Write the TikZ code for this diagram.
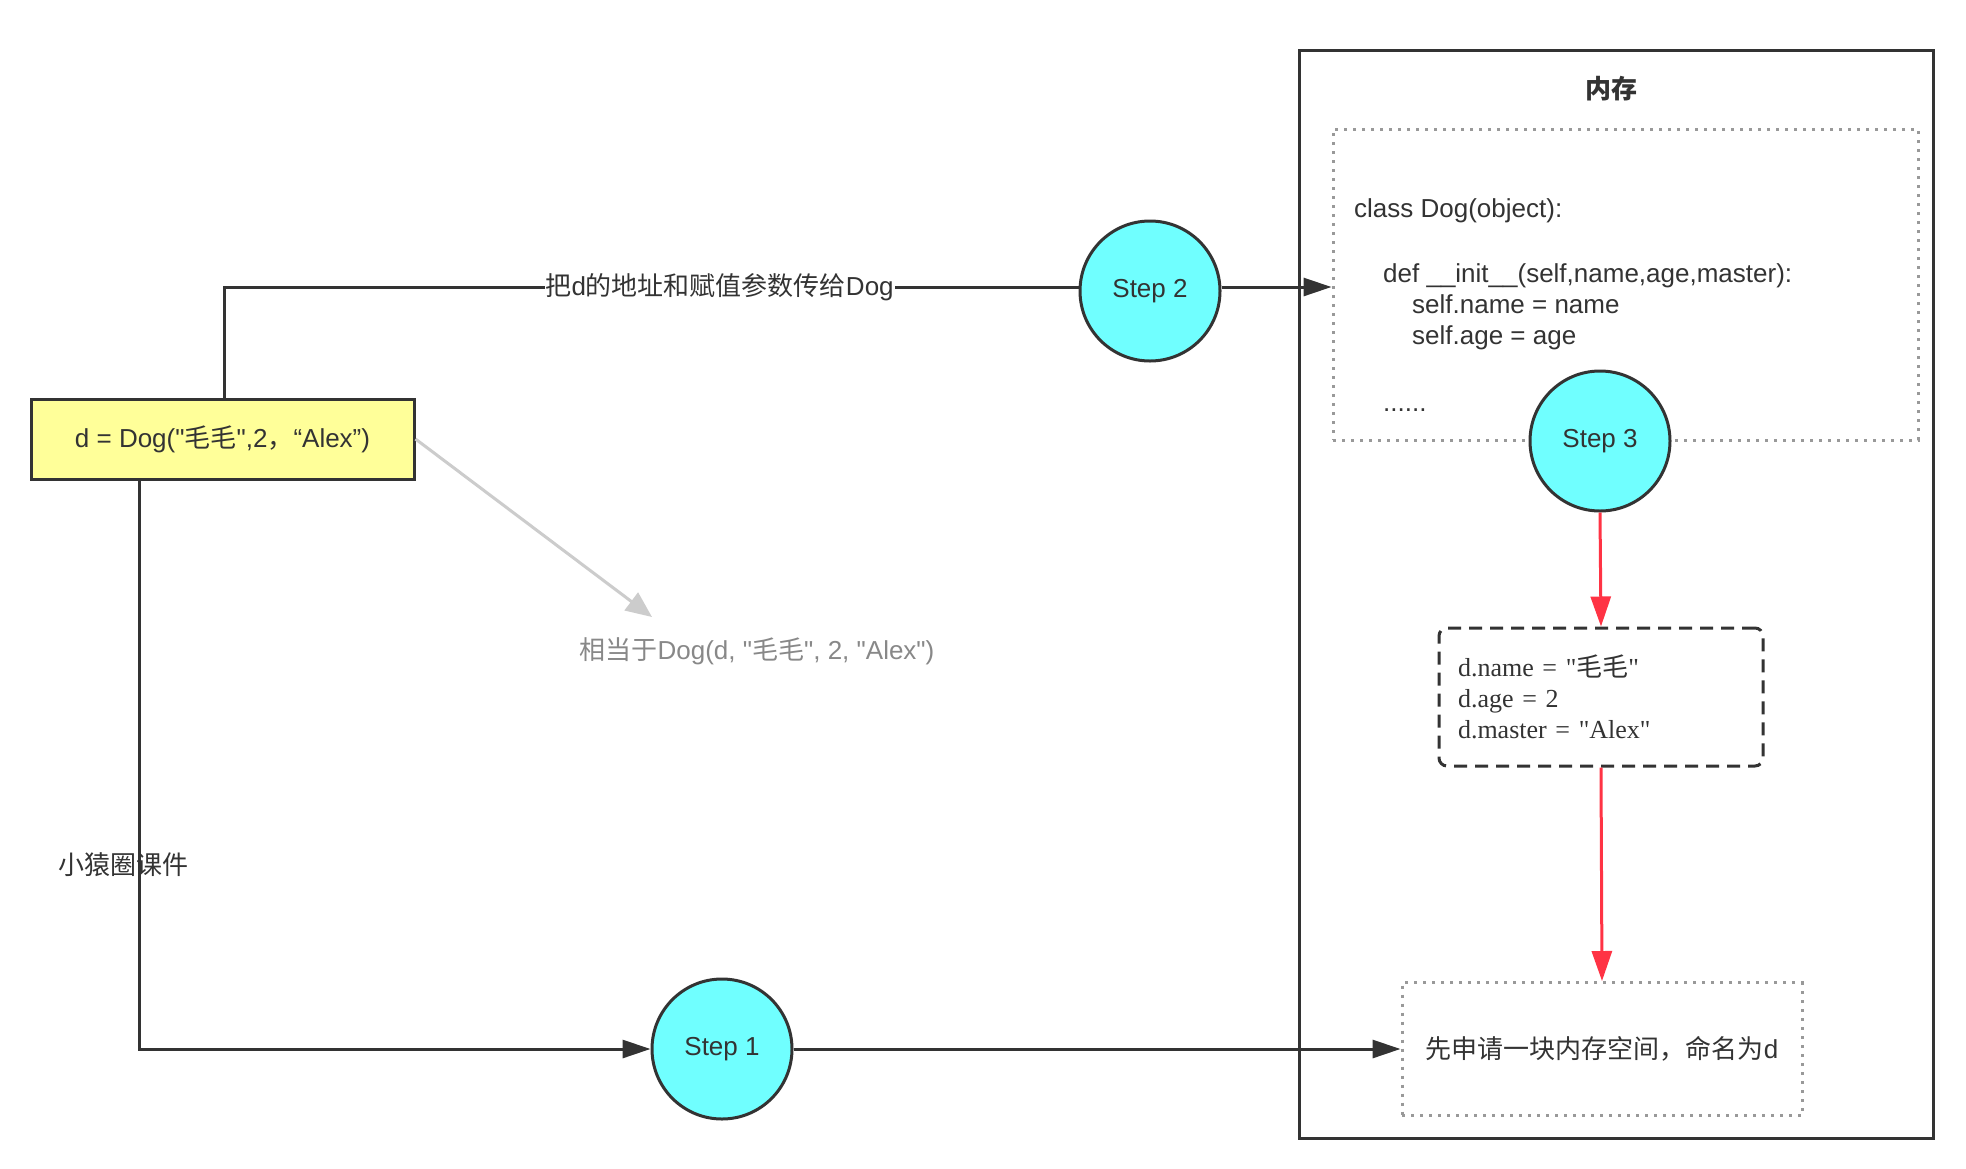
\documentclass[tikz,border=0pt]{standalone}
\usepackage{fontspec}
\newfontfamily\latinft{Liberation Sans}
\newfontfamily\cjk{Noto Sans CJK SC}
\newfontfamily\serift{Liberation Serif}
\usetikzlibrary{arrows.meta}
\definecolor{ink}{HTML}{333333}
\definecolor{cyanfill}{HTML}{70FFFF}
\definecolor{yel}{HTML}{FFFF99}
\definecolor{dotgray}{HTML}{999999}
\definecolor{redln}{HTML}{FF3344}
\definecolor{lightgr}{HTML}{CCCCCC}
\definecolor{notegray}{HTML}{888888}
\begin{document}
\begin{tikzpicture}[x=1pt,y=-1pt,
  font=\latinft\fontsize{26}{31}\selectfont, text=ink,
  stepnode/.style={circle, draw=ink, fill=cyanfill, line width=3pt, minimum size=140pt, inner sep=0pt},
  ybox/.style={draw=ink, fill=yel, line width=3pt, minimum width=383pt, minimum height=80pt, inner sep=0pt},
  conn/.style={draw=ink, line width=3pt},
  arr/.style={conn, -{Triangle[length=28pt,width=18pt]}},
  redarr/.style={draw=redln, line width=3pt, -{Triangle[length=30pt,width=20pt]}},
  grayarr/.style={draw=lightgr, line width=3pt, -{Triangle[length=26pt,width=22pt]}},
  dotbox/.style={draw=dotgray, line width=3pt, dash pattern=on 3pt off 6pt, inner sep=0pt},
  dashbox/.style={draw=ink, line width=3pt, dash pattern=on 13pt off 8pt, rounded corners=8pt}]
\fill[white] (0,0) rectangle (1966,1168);
\useasboundingbox (0,0) rectangle (1966,1168);

% memory frame
\node[draw=ink, line width=3pt, minimum width=634pt, minimum height=1088pt, inner sep=0pt] (mem) at (1616,594) {};
\node (memtitle) at (1611,89) {\cjk\bfseries 内存};

% class code box
\node[dotbox, minimum width=585pt, minimum height=311pt] (code) at (1625.5,284.5) {};
\node[anchor=north west, align=left, inner sep=0pt] (codetext) at (1354,198)
  {class Dog(object):\\[34pt]
   \hspace*{29pt}def \_\_init\_\_(self,name,age,master):\\
   \hspace*{58pt}self.name = name\\
   \hspace*{58pt}self.age = age\\[36pt]
   \hspace*{29pt}......};

% nodes
\node[ybox] (dcall) at (222.5,439) {d = Dog("{\cjk 毛毛}",2{\cjk ，}“Alex”)};
\node[stepnode] (s2) at (1150,291) {Step 2};
\node[stepnode] (s1) at (722,1049) {Step 1};
\node[stepnode] (s3) at (1600,441) {Step 3};
\node[dashbox, minimum height=138pt, inner xsep=19pt, text width=286pt, align=left,
      font=\serift\fontsize{26}{31}\selectfont] (attrs) at (1601,697)
  {d.name = "{\cjk 毛毛}"\\ d.age = 2\\ d.master = "Alex"};
\node[dotbox, minimum width=400pt, minimum height=133pt] (alloc) at (1602,1049)
  {{\cjk 先申请一块内存空间，命名为}d};
\node[text=notegray] (note) at (757,651) {{\cjk 相当于}Dog(d, "{\cjk 毛毛}", 2, "Alex")};
\node (wm) at (123,865) {\cjk 小猿圈课件};

% connectors
\coordinate (c1) at (224,287);
\draw[conn] (dcall.north -| c1) -- (c1) --
  node[pos=0.58, fill=white, inner xsep=1pt, inner ysep=2pt] (lbl)
  {{\cjk 把}d{\cjk 的地址和赋值参数传给}Dog} (c1 -| s2.west);
\draw[arr] ([yshift=4pt]s2.east) -- ([yshift=4pt]s2.east -| code.west);
\coordinate (c2) at (139,1049);
\draw[arr] (dcall.south -| c2) |- (s1.west);
\draw[arr] (s1.east) -- (s1.east -| alloc.west);
\draw[redarr] (s3.south) -- (attrs.north);
\draw[redarr] (attrs.south) -- (alloc.north);
\coordinate (g1) at (652,617);
\draw[grayarr] (dcall.east) -- (g1);
\end{tikzpicture}
\end{document}
